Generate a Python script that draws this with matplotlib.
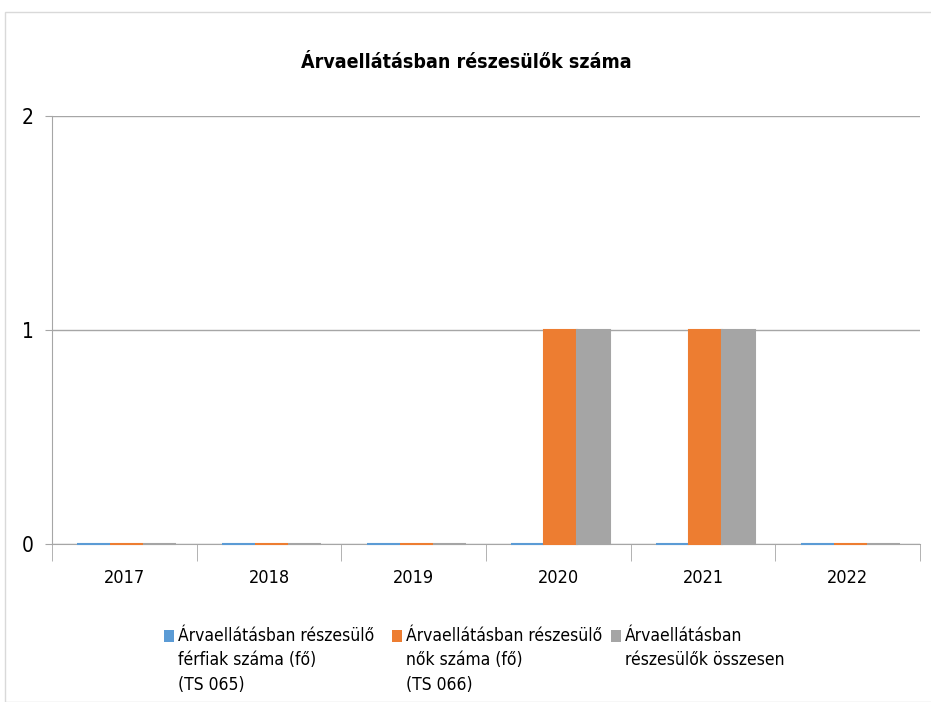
import matplotlib.pyplot as plt
import numpy as np
from matplotlib.patches import Rectangle

plt.rcParams['font.family'] = ['DejaVu Sans']
plt.rcParams['font.stretch'] = 'condensed'

# data
years = ['2017', '2018', '2019', '2020', '2021', '2022']
ferfiak = [0, 0, 0, 0, 0, 0]
nok = [0, 0, 0, 1, 1, 0]
osszesen = [0, 0, 0, 1, 1, 0]
series_labels = [
    'Árvaellátásban részesülő\nférfiak száma (fő)\n(TS 065)',
    'Árvaellátásban részesülő\nnők száma (fő)\n(TS 066)',
    'Árvaellátásban\nrészesülők összesen',
]
colors = ['#5B9BD5', '#ED7D31', '#A5A5A5']

fig = plt.figure(figsize=(9.31, 7.02), dpi=100)
ax = fig.add_axes([52 / 931, 1 - 544 / 702, 868 / 931, 428 / 702])

# light chart border
fig.patches.append(Rectangle((5 / 931, 0), 1, 1 - 12 / 702, transform=fig.transFigure,
                             fill=False, edgecolor='#D9D9D9', linewidth=1, zorder=0))

x = np.arange(len(years))
w = 0.228
for i, (vals, c) in enumerate(zip([ferfiak, nok, osszesen], colors)):
    ax.bar(x + (i - 1) * w + 0.018, vals, width=w, color=c, edgecolor=c, linewidth=1.5,
           zorder=5, clip_on=False)

ax.set_xlim(-0.5, len(years) - 0.5)
ax.set_ylim(0, 2)
ax.set_yticks([0, 1, 2])
ax.yaxis.grid(True, color='#A6A6A6', linewidth=1, zorder=0)
ax.set_xticks(x)
ax.set_xticklabels(years, fontsize=13)
ax.set_xticks(np.arange(len(years) + 1) - 0.5, minor=True)
ax.tick_params(axis='x', which='major', length=0, pad=18)
ax.tick_params(axis='x', which='minor', length=12, color='#A6A6A6', direction='out')
ax.tick_params(axis='y', length=5, color='#A6A6A6', labelsize=15, pad=8)

for s in ['top', 'right']:
    ax.spines[s].set_visible(False)
ax.spines['left'].set_color('#A6A6A6')
ax.spines['bottom'].set_color('#A6A6A6')
ax.spines['bottom'].set_zorder(2)

fig.text(466 / 931, 1 - 62 / 702, 'Árvaellátásban részesülők száma', ha='center', va='center',
         fontsize=14, fontweight='bold')

# legend, placed by hand so the squares sit at the first text line
sq_x = [164, 392, 611]
for sx, c, lab in zip(sq_x, colors, series_labels):
    fig.patches.append(Rectangle((sx / 931, 1 - 642 / 702), 10 / 931, 12 / 702,
                                 transform=fig.transFigure, facecolor=c, edgecolor='none'))
    fig.text((sx + 14) / 931, 1 - 627 / 702, lab, ha='left', va='top',
             fontsize=12.5, linespacing=1.45)

fig.savefig('out.png', dpi=100)
